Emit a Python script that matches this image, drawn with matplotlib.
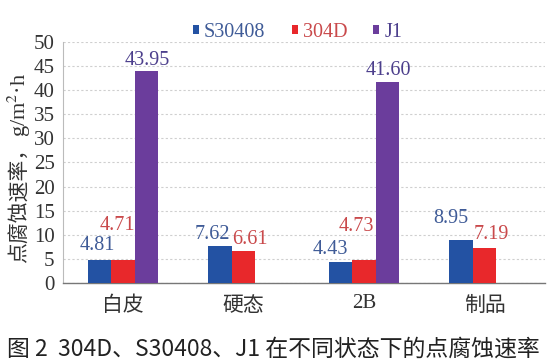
import numpy as np
import matplotlib
matplotlib.use("Agg")
from matplotlib import pyplot as plt

plt.rcParams["mathtext.fontset"] = "stix"

# data
states = ["白皮", "硬态", "2B", "制品"]
series = ["S30408", "304D", "J1"]
s30408 = [4.81, 7.62, 4.43, 8.95]
d304 = [4.71, 6.61, 4.73, 7.19]
j1 = [43.95, np.nan, 41.60, np.nan]

# label offsets from bar top (pixels) - hand placed in the original
off_s = [(-2, 14), (-8, 12), (-10, 12.5), (-10, 21.5)]
off_d = [(-6, 35), (6, 11.5), (-8, 34), (7, 13.5)]
off_j = [(1, 10.5), (0, 0), (1, 11.5), (0, 0)]

bar_cols = ["#2352a3", "#e8282b", "#6b3d9c"]
txt_cols = ["#3f5b97", "#c9494b", "#4c3f8c"]

serif = "Liberation Serif"
cjk = ["Noto Sans CJK SC", "DejaVu Sans"]

fig = plt.figure(figsize=(5.47, 3.61), dpi=100)
ax = fig.add_axes([0.115, 0.216, 0.881, 0.668])

x = np.arange(len(states))
w = 0.195
bars = []
for i, (vals, offs) in enumerate(zip([s30408, d304, j1], [off_s, off_d, off_j])):
    b = ax.bar(x + (i - 1) * w, vals, w, color=bar_cols[i], label=series[i], zorder=3)
    bars.append(b)
    for xi, v, (dx, dy) in zip(x + (i - 1) * w, vals, offs):
        if np.isnan(v):
            continue
        ax.annotate("%.2f" % v, (xi, v), xytext=(dx, dy), textcoords="offset pixels",
                    ha="center", va="center", fontsize=14.5, family=serif,
                    color=txt_cols[i], zorder=4)

ax.set_xlim(-0.5, 3.5)
ax.set_ylim(0, 50)
ax.set_yticks(np.arange(0, 51, 5))
ax.set_xticks(x)
ax.set_xticklabels(states)
for lab in ax.get_xticklabels():
    lab.set_family(cjk if lab.get_text() != "2B" else serif)
    lab.set_fontsize(15)
    lab.set_color("#333333")
for lab in ax.get_yticklabels():
    lab.set_family(serif)
    lab.set_fontsize(15)
    lab.set_color("#333333")
ax.tick_params(length=0, pad=6)
ax.tick_params(axis="x", pad=8)
ax.grid(axis="y", color="#cfcfcf", linestyle=(0, (2, 2)), linewidth=0.8, zorder=0)
for s in ["top", "right"]:
    ax.spines[s].set_visible(False)
ax.spines["left"].set_color("#bbbbbb")
ax.spines["bottom"].set_color("#777777")
ax.spines["bottom"].set_linewidth(1.0)

leg = fig.legend(handles=bars, labels=series, loc="center", bbox_to_anchor=(0.544, 0.911),
                 ncol=3, frameon=False, handlelength=0.3, handleheight=0.3,
                 handletextpad=0.25, columnspacing=1.3, borderpad=0,
                 prop={"family": serif, "size": 14.5})
for t, c in zip(leg.get_texts(), txt_cols):
    t.set_color(c)

# y label in two pieces: CJK part + serif unit with a real superscript
yl1 = fig.text(0.047, 0.272, "点腐蚀速率，", rotation=90, rotation_mode="anchor",
               ha="left", va="baseline", fontsize=15, family=cjk, color="#333333")
fig.canvas.draw()
bb = yl1.get_window_extent()
fig.text(0.047, (bb.y1 + 1) / fig.bbox.height, "g/m$^{2}$·h", rotation=90, rotation_mode="anchor",
         ha="left", va="baseline", fontsize=16, family=serif, color="#333333")

fig.text(0.5, 0.034, "图 2  304D、S30408、J1 在不同状态下的点腐蚀速率", ha="center", va="center",
         fontsize=16.5, family=cjk, color="#222222")

fig.savefig("out.png", dpi=100)
